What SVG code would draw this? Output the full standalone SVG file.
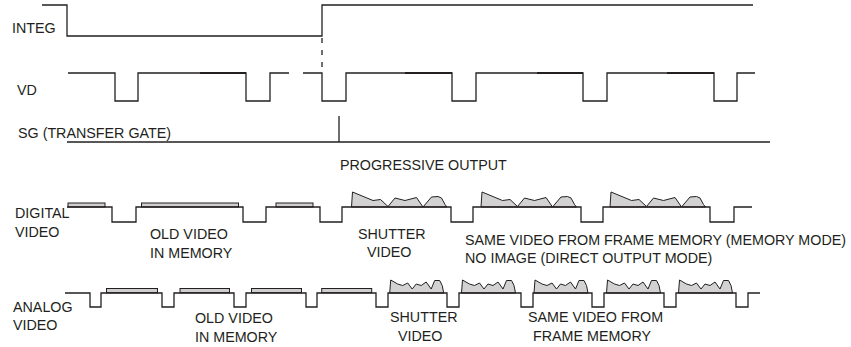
<svg xmlns="http://www.w3.org/2000/svg" width="851" height="347" viewBox="0 0 851 347">
<style>
.w{fill:none;stroke:#231f20;stroke-width:1.3;stroke-linejoin:miter}
.wd{fill:none;stroke:#231f20;stroke-width:1.9}
.bar{fill:#cfcfcf;stroke:#231f20;stroke-width:1}
.sh{fill:#d2d2d2;stroke:#231f20;stroke-width:1}
text{font-family:"Liberation Sans",Arial,sans-serif;font-size:14.3px;fill:#231f20}
</style>
<defs>
<path id="dshape" class="sh" d="M0,0 L1,-15 L21.5,-6.5 L29,-7.5 L36.5,-0.5 L43.5,-9 L53.5,-6.5 L65,-9.5 L71.5,0 L80,-10 L86.5,-10.5 L90,-9 L93.5,-2.5 L95.5,0 Z"/>
<path id="ashape" class="sh" d="M0,0 L1,-13 L8,-9 L13,-7.5 L18,-10 L22.5,-4 L26.5,-9 L31.5,-7.5 L36.5,-11 L41.5,-4 L45,-12.5 L50,-12.5 L52.5,-7.5 L54,0 Z"/>
</defs>
<rect width="851" height="347" fill="#fff"/>

<g id="integ">
<text x="12" y="33">INTEG</text>
<path class="w" d="M42,5 H67 V36 H322 V5 H753"/>
</g>

<g id="vd">
<text x="17" y="95">VD</text>
<path class="w" d="M68,73 H115 V101 H138 V73 H246 V101 H270 V73 H289 M303,73 H322 V101 H346 V73 H452 V101 H476 V73 H583 V101 H607 V73 H714 V101 H737 V73 H755"/>
<path class="wd" d="M200,73 H246 M405,73 H452 M537,73 H583 M667,73 H714"/>
</g>

<g id="sg">
<text x="18" y="138">SG (TRANSFER GATE)</text>
<path class="w" d="M67,142 H770 M339,116 V142"/>
</g>

<g id="progressive">
<text x="340" y="170">PROGRESSIVE OUTPUT</text>
</g>

<g id="digital">
<text x="15" y="218">DIGITAL</text>
<text x="15" y="237">VIDEO</text>
<rect class="bar" x="68" y="203" width="37" height="4"/>
<rect class="bar" x="141.5" y="203" width="97" height="4"/>
<rect class="bar" x="276" y="203" width="37" height="4"/>
<use href="#dshape" x="351.5" y="207"/>
<use href="#dshape" x="481" y="207"/>
<use href="#dshape" x="610" y="207"/>
<path class="w" d="M67,207 H112 V222 H136 V207 H243 V222 H266 V207 H320 V222 H342 V207 H451 V222 H473 V207 H581 V222 H603 V207 H710 V222 H734 V207 H752"/>
<text x="150" y="239">OLD VIDEO</text>
<text x="150" y="258">IN MEMORY</text>
<text x="358" y="239">SHUTTER</text>
<text x="367" y="257">VIDEO</text>
<text x="465" y="245">SAME VIDEO FROM FRAME MEMORY (MEMORY MODE)</text>
<text x="465" y="263">NO IMAGE (DIRECT OUTPUT MODE)</text>
</g>

<g id="analog">
<text x="13" y="312">ANALOG</text>
<text x="13" y="330">VIDEO</text>
<rect class="bar" x="106.5" y="288.5" width="51" height="4.2"/>
<rect class="bar" x="180" y="288.5" width="49.5" height="4.2"/>
<rect class="bar" x="251.5" y="288.5" width="50" height="4.2"/>
<rect class="bar" x="321.7" y="288.5" width="50" height="4.2"/>
<use href="#ashape" x="389.7" y="293"/>
<use href="#ashape" x="461.5" y="293"/>
<use href="#ashape" x="534" y="293"/>
<use href="#ashape" x="606.5" y="293"/>
<use href="#ashape" x="678.5" y="293"/>
<path class="w" d="M65,293 H90 V307 H101 V293 H162 V307 H174 V293 H234 V307 H246 V293 H306 V307 H317 V293 H376 V307 H388 V293 H447 V307 H459 V293 H521 V307 H533 V293 H592 V307 H604 V293 H664 V307 H676 V293 H736 V307 H748 V293 H760"/>
<text x="195" y="323">OLD VIDEO</text>
<text x="195" y="342">IN MEMORY</text>
<text x="390" y="322">SHUTTER</text>
<text x="398" y="341">VIDEO</text>
<text x="528" y="322">SAME VIDEO FROM</text>
<text x="533" y="341">FRAME MEMORY</text>
</g>

<g id="connectors">
<path class="w" d="M322,38 V68" stroke-dasharray="5,7"/>
</g>
</svg>
